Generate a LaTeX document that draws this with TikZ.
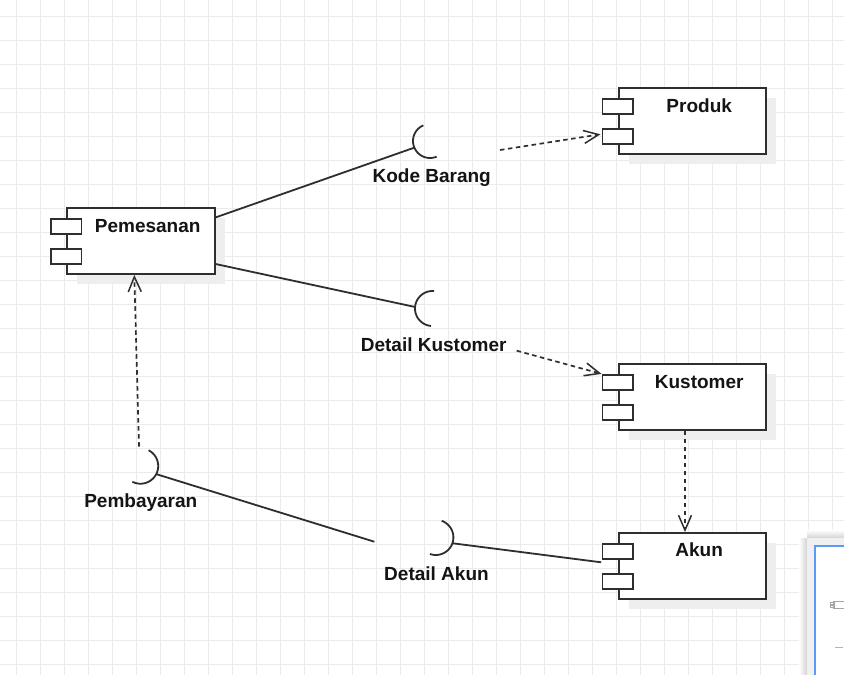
\documentclass[tikz,border=0pt]{standalone}
\usepackage{fontspec}
\setmainfont{Liberation Sans}
\usetikzlibrary{arrows.meta,calc,shadows}
\definecolor{gridc}{HTML}{EBEBEB}
\definecolor{linec}{HTML}{2E2E2E}
\definecolor{shadowc}{HTML}{EEEEEE}
\definecolor{panelc}{HTML}{F0F0F0}
\definecolor{bluec}{HTML}{5B9BF8}
\begin{document}
\begin{tikzpicture}[x=1pt,y=-1pt,
  comp/.style={draw=linec, line width=1.9pt, fill=white, minimum width=147.7pt, minimum height=66pt, inner sep=0pt,
    drop shadow={shadow xshift=10pt, shadow yshift=-10pt, fill=shadowc, opacity=1}},
  port/.style={draw=linec, line width=1.9pt, fill=white, minimum width=30.5pt, minimum height=14.7pt, inner sep=0pt},
  ttl/.style={font=\bfseries\fontsize{19}{22}\selectfont, anchor=base, inner sep=0pt, text=black!92},
  conn/.style={draw=linec, line width=1.8pt},
  dep/.style={draw=linec, line width=1.7pt, dash pattern=on 4.5pt off 3.5pt,
    -{Straight Barb[length=15pt,width=13pt,line width=1.5pt]}},
  sock/.style={draw=linec, line width=1.8pt},
]
\useasboundingbox (0,0) rectangle (844,675);
\fill[white] (0,0) rectangle (844,675);
% grid
\foreach \g in {16.5,40.5,...,844} \draw[gridc, line width=1pt] (\g,0) -- (\g,675);
\foreach \g in {16.5,40.5,...,675} \draw[gridc, line width=1pt] (0,\g) -- (844,\g);

% components
\node[comp] (pem) at (141,241) {};
\node[comp] (prod) at (692.5,121) {};
\node[comp] (kus) at (692.5,397) {};
\node[comp] (akun) at (692.5,566) {};
\foreach \c in {pem,prod,kus,akun}{
  \node[port] (\c P1) at ($(\c.west)+(0,-14.8)$) {};
  \node[port] (\c P2) at ($(\c.west)+(0,15.3)$) {};
}
\node[ttl] (pemT) at ($(pem.north west)+(81.5,25.5)$) {Pemesanan};
\node[ttl] (prodT) at ($(prod.north west)+(81.5,25.3)$) {Produk};
\node[ttl] (kusT) at ($(kus.north west)+(81.5,25.3)$) {Kustomer};
\node[ttl] (akunT) at ($(akun.north west)+(81.5,24.8)$) {Akun};

% sockets (required interfaces)
\coordinate (kbC) at (430,141);
\coordinate (dkC) at (432.5,308.5);
\coordinate (pbC) at (140.5,466);
\coordinate (daC) at (435.8,537.4);
\begin{scope}[shift={(kbC)}]
  \draw[sock] plot[domain=67:247, samples=40] ({17*cos(\x)},{17*sin(\x)});
\end{scope}
\begin{scope}[shift={(dkC)}]
  \draw[sock] plot[domain=95:275, samples=40] ({17.5*cos(\x)},{17.5*sin(\x)});
\end{scope}
\begin{scope}[shift={(pbC)}]
  \draw[sock] plot[domain=-62.7:117.3, samples=40] ({17.7*cos(\x)},{17.7*sin(\x)});
\end{scope}
\begin{scope}[shift={(daC)}]
  \draw[sock] plot[domain=-70.6:109.4, samples=40] ({17.6*cos(\x)},{17.6*sin(\x)});
\end{scope}
\coordinate (kbBack) at ($(kbC)+({17*cos(157)},{17*sin(157)})$);
\coordinate (dkBack) at ($(dkC)+({17.5*cos(185)},{17.5*sin(185)})$);
\coordinate (pbBack) at ($(pbC)+({17.7*cos(27.3)},{17.7*sin(27.3)})$);
\coordinate (daBack) at ($(daC)+({17.6*cos(19.4)},{17.6*sin(19.4)})$);
\coordinate (kbTail) at (500,150);
\coordinate (dkTail) at (516.7,350.7);
\coordinate (pbTail) at (139,446.7);
\coordinate (pbEnd) at (374.3,541.7);

% labels
\node[ttl] (kbL) at (431.7,182.7) {Kode Barang};
\node[ttl] (dkL) at (433.7,351.7) {Detail Kustomer};
\node[ttl] (pbL) at (140.8,507.7) {Pembayaran};
\node[ttl] (daL) at (436.5,580) {Detail Akun};

% connectors
\draw[conn] ($(pem.north east)+(0,10.3)$) -- (kbBack);
\draw[conn] ($(pem.north east)+(0,57)$) -- (dkBack);
\draw[dep] (kbTail) -- ($(prodP2.west)+(-1,-2)$);
\draw[dep] (dkTail) -- (kusP1.north west);
\draw[dep] ($(kus.south)+(-7.5,0)$) -- ($(akun.north)+(-7.5,0)$);
\draw[dep] (pbTail) -- ($(pem.south)+(-6.7,0)$);
\draw[conn] (pbBack) -- (pbEnd);
\draw[conn] (daBack) -- ($(akun.west)+(-16.5,-3.7)$);

% outline panel (bottom right)
\shade[left color=white, right color=gray!35] (799,538) rectangle (807,675);
\shade[top color=white, bottom color=gray!35] (807,530) rectangle (844,538);
\fill[panelc] (807,538) rectangle (844,675);
\draw[bluec, line width=1.5pt, fill=white] (815,546) rectangle (852,684);
\draw[gray!70, line width=0.4pt] (833,601.5) rectangle (846,608);
\draw[gray!70, line width=0.4pt] (830.5,602.5) rectangle (834,604);
\draw[gray!70, line width=0.4pt] (830.5,605.5) rectangle (834,607);
\draw[gray!60, line width=0.8pt] (835,647) -- (843,647);
\end{tikzpicture}
\end{document}
